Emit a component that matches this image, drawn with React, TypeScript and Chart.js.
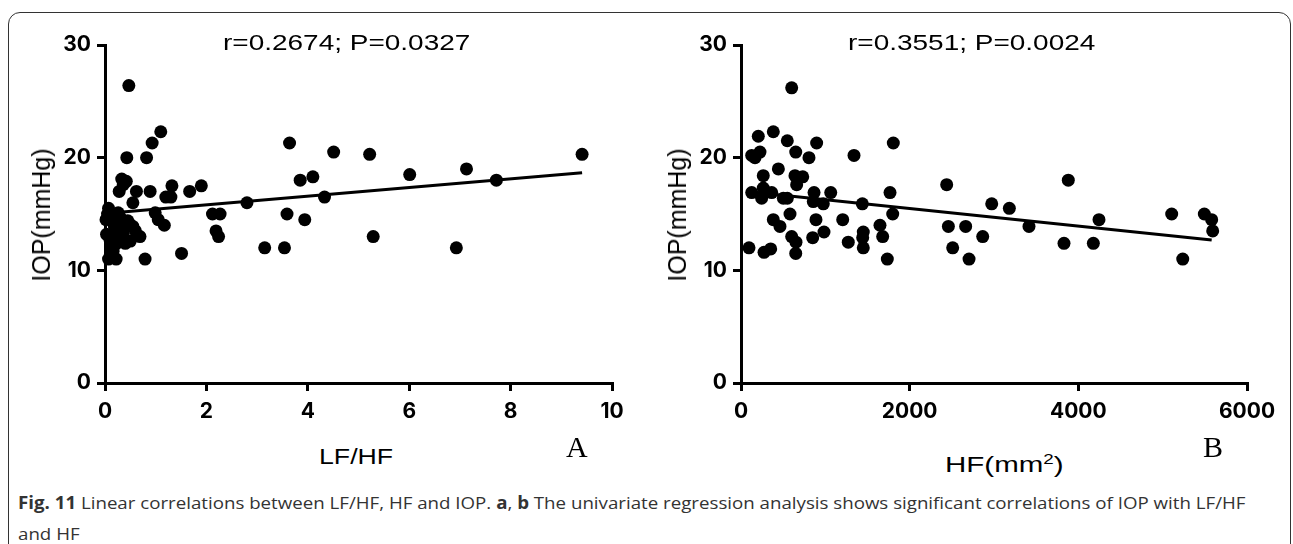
import React, { useEffect, useLayoutEffect, useRef, useState } from "react";
import { Chart, registerables } from "chart.js";
Chart.register(...registerables);

// ---------- data ----------
const lfhfValues = [
  0.47, 1.10, 0.93, 0.43, 0.82, 3.64, 3.85, 4.10, 0.33, 0.36, 0.28, 0.62, 0.89, 0.55, 1.32, 1.20, 1.30, 1.67, 1.90, 2.80,
  2.12, 2.27, 3.59, 3.94, 2.19, 2.24, 3.15, 3.54, 1.51, 0.79, 0.07, 0.22, 0.99, 1.05, 1.17, 0.69, 4.51, 5.22, 6.01, 7.13,
  7.72, 9.41, 4.33, 5.29, 6.93, 0.07, 0.02, 0.13, 0.30, 0.49, 0.55, 0.36, 0.10, 0.23, 0.40, 0.16, 0.03, 0.30, 0.20, 0.45,
  0.26, 0.12, 0.35, 0.50, 0.18, 0.60, 0.05, 0.42,
];
const iopA = [
  26.4, 22.3, 21.3, 20.0, 20.0, 21.3, 18.0, 18.3, 18.1, 17.6, 17.0, 17.0, 17.0, 16.0, 17.5, 16.5, 16.5, 17.0, 17.5, 16.0,
  15.0, 15.0, 15.0, 14.5, 13.5, 13.0, 12.0, 12.0, 11.5, 11.0, 11.0, 11.0, 15.1, 14.5, 14.0, 13.0, 20.5, 20.3, 18.5, 19.0,
  18.0, 20.3, 16.5, 13.0, 12.0, 15.5, 14.5, 14.8, 14.7, 14.1, 13.9, 13.3, 12.7, 12.4, 12.4, 11.7, 13.2, 13.9, 13.3, 14.4,
  15.1, 12.0, 12.8, 12.6, 14.0, 13.5, 15.0, 17.9,
];
const hfValues = [
  601, 205, 383, 549, 897, 1806, 127, 166, 225, 649, 806, 1340, 443, 264, 640, 732, 660, 127, 264, 245,
  364, 502, 549, 866, 1064, 857, 976, 1439, 1767, 1799, 581, 383, 462, 889, 1206, 1648, 984, 1450, 1443, 1450,
  1680, 601, 652, 850, 1272, 95, 273, 352, 649, 1735, 2439, 3881, 2973, 3182, 2459, 2664, 2866, 2510, 2704, 3415,
  4245, 3830, 4178, 5107, 5494, 5581, 5593, 5238,
];
const iopB = [
  26.2, 21.9, 22.3, 21.5, 21.3, 21.3, 20.2, 20.0, 20.5, 20.5, 20.0, 20.2, 19.0, 18.4, 18.4, 18.3, 17.6, 16.9, 17.3, 16.4,
  16.9, 16.4, 16.4, 16.9, 16.9, 16.1, 15.9, 15.9, 16.9, 15.0, 15.0, 14.5, 13.9, 14.5, 14.5, 14.0, 13.4, 13.4, 12.9, 12.0,
  13.0, 13.0, 12.5, 12.9, 12.5, 12.0, 11.6, 11.9, 11.5, 11.0, 17.6, 18.0, 15.9, 15.5, 13.9, 13.9, 13.0, 12.0, 11.0, 13.9,
  14.5, 12.4, 12.4, 15.0, 15.0, 14.5, 13.5, 11.0,
];
// regression lines (end points)
const fitAx = [0, 9.41];
const fitAy = [15.05, 18.67];
const fitBx = [95, 5581];
const fitBy = [16.98, 12.7];
// axes
const yTicks = [0, 10, 20, 30];
const xTicksA = [0, 2, 4, 6, 8, 10];
const xTicksB = [0, 2000, 4000, 6000];

const TICK_FONT = { family: "Inter, 'Liberation Sans', Arial", weight: "bold" as const, size: 21 };

type PanelProps = {
  xs: number[];
  ys: number[];
  fx: number[];
  fy: number[];
  xTicks: number[];
  left: number;
  width: number;
  yAxisWidth: number;
  padRight: number;
};

function Panel({ xs, ys, fx, fy, xTicks, left, width, yAxisWidth, padRight }: PanelProps) {
  const ref = useRef<HTMLCanvasElement>(null);
  useEffect(() => {
    if (!ref.current) return;
    const pts = xs.map((x, i) => ({ x, y: ys[i] }));
    const line = fx.map((x, i) => ({ x, y: fy[i] }));
    const axisCommon = {
      type: "linear" as const,
      grid: { drawOnChartArea: false, drawTicks: true, tickLength: 8, color: "#000", lineWidth: 3 },
      border: { display: true, color: "#000", width: 3 },
    };
    const chart = new Chart(ref.current, {
      type: "scatter",
      data: {
        datasets: [
          {
            type: "line",
            data: line,
            borderColor: "#000",
            borderWidth: 3,
            pointRadius: 0,
            showLine: true,
            clip: false,
          } as any,
          {
            data: pts,
            pointRadius: 6.5,
            pointHoverRadius: 6.5,
            backgroundColor: "#000",
            borderWidth: 0,
            clip: false,
          } as any,
        ],
      },
      options: {
        animation: false,
        responsive: false,
        devicePixelRatio: 1,
        layout: { padding: { left: 0, top: 45, right: padRight, bottom: 0 } },
        plugins: { legend: { display: false }, tooltip: { enabled: false }, title: { display: false } },
        scales: {
          x: {
            ...axisCommon,
            min: xTicks[0],
            max: xTicks[xTicks.length - 1],
            afterBuildTicks: (s: any) => {
              s.ticks = xTicks.map((v) => ({ value: v }));
            },
            ticks: { font: TICK_FONT, color: "#000", padding: 8, maxRotation: 0, autoSkip: false, callback: (v: any) => String(v) },
            afterFit: (s: any) => {
              s.height = 57;
            },
          },
          y: {
            ...axisCommon,
            min: yTicks[0],
            max: yTicks[yTicks.length - 1],
            afterBuildTicks: (s: any) => {
              s.ticks = yTicks.map((v) => ({ value: v }));
            },
            ticks: { font: TICK_FONT, color: "#000", padding: 6, autoSkip: false, callback: (v: any) => String(v) },
            afterFit: (s: any) => {
              s.width = yAxisWidth;
            },
          },
        } as any,
      },
    });
    return () => chart.destroy();
  }, []);
  return (
    <canvas
      ref={ref}
      width={width}
      height={440}
      style={{ position: "absolute", left, top: 0, width, height: 440 }}
    />
  );
}

type FitProps = {
  left: number;
  cy: number;
  width?: number;
  size: number;
  family: string;
  weight?: string;
  color?: string;
  children: React.ReactNode;
};

function FitText({ left, cy, width, size, family, weight = "normal", color = "#000", children }: FitProps) {
  const ref = useRef<HTMLDivElement>(null);
  const [s, setS] = useState(1);
  useLayoutEffect(() => {
    if (ref.current && width) {
      const w = ref.current.offsetWidth;
      if (w > 0) setS(width / w);
    }
  }, [width]);
  return (
    <div
      ref={ref}
      style={{
        position: "absolute",
        left,
        top: cy - size * 0.6,
        fontSize: size,
        lineHeight: `${size * 1.2}px`,
        fontFamily: family,
        fontWeight: weight as any,
        color,
        whiteSpace: "nowrap",
        transform: `scaleX(${s})`,
        transformOrigin: "left center",
      }}
    >
      {children}
    </div>
  );
}

function Caption() {
  const l1 = useRef<HTMLDivElement>(null);
  const [s, setS] = useState(1);
  useLayoutEffect(() => {
    if (l1.current) {
      const w = l1.current.offsetWidth;
      if (w > 0) setS(1227 / w);
    }
  }, []);
  const base: React.CSSProperties = {
    position: "absolute",
    left: 18,
    fontSize: 17,
    lineHeight: "20px",
    fontFamily: "'Open Sans', 'Noto Sans', sans-serif",
    color: "#333",
    whiteSpace: "nowrap",
    transform: `scaleX(${s})`,
    transformOrigin: "left center",
  };
  return (
    <>
      <div ref={l1} style={{ ...base, top: 493 }}>
        <b>Fig. 11</b> Linear correlations between LF/HF, HF and IOP. <b>a</b>, <b>b</b> The univariate regression analysis
        shows significant correlations of IOP with LF/HF
      </div>
      <div style={{ ...base, top: 524 }}>and HF</div>
    </>
  );
}

const ARIAL = "'Liberation Sans', Arial, sans-serif";
const SERIF = "'Liberation Serif', 'Times New Roman', serif";

function RotTitle({ cx, cy, text }: { cx: number; cy: number; text: string }) {
  return (
    <div
      style={{
        position: "absolute",
        left: cx,
        top: cy,
        transform: "translate(-50%, -50%) rotate(-90deg)",
        fontFamily: ARIAL,
        fontSize: 25,
        lineHeight: "30px",
        whiteSpace: "nowrap",
        color: "#000",
      }}
    >
      {text}
    </div>
  );
}

export default function App() {
  return (
    <div
      style={{
        position: "fixed",
        left: 0,
        top: 0,
        width: 1293,
        height: 544,
        background: "#fff",
        overflow: "hidden",
      }}
    >
      <div
        style={{
          position: "absolute",
          left: 8,
          top: 12,
          width: 1283,
          height: 600,
          border: "1.5px solid #333",
          borderRadius: 12,
          boxSizing: "border-box",
        }}
      />
      <Panel xs={lfhfValues} ys={iopA} fx={fitAx} fy={fitAy} xTicks={xTicksA} left={0} width={646} yAxisWidth={105} padRight={34} />
      <Panel xs={hfValues} ys={iopB} fx={fitBx} fy={fitBy} xTicks={xTicksB} left={646} width={647} yAxisWidth={95} padRight={46} />

      <FitText left={223} cy={43} width={248} size={22} family={ARIAL}>
        r=0.2674; P=0.0327
      </FitText>
      <FitText left={848} cy={43} width={248} size={22} family={ARIAL}>
        r=0.3551; P=0.0024
      </FitText>

      <RotTitle cx={41} cy={215} text="IOP(mmHg)" />
      <RotTitle cx={677} cy={215} text="IOP(mmHg)" />

      <FitText left={319} cy={457} width={74} size={22} family={ARIAL}>
        LF/HF
      </FitText>
      <FitText left={945} cy={465} width={118} size={22} family={ARIAL}>
        HF(mm<sup style={{ fontSize: 14, verticalAlign: "8px", lineHeight: 0 }}>2</sup>)
      </FitText>

      <FitText left={566} cy={447} size={30} family={SERIF}>
        A
      </FitText>
      <FitText left={1203} cy={447} size={30} family={SERIF}>
        B
      </FitText>

      <Caption />
    </div>
  );
}
